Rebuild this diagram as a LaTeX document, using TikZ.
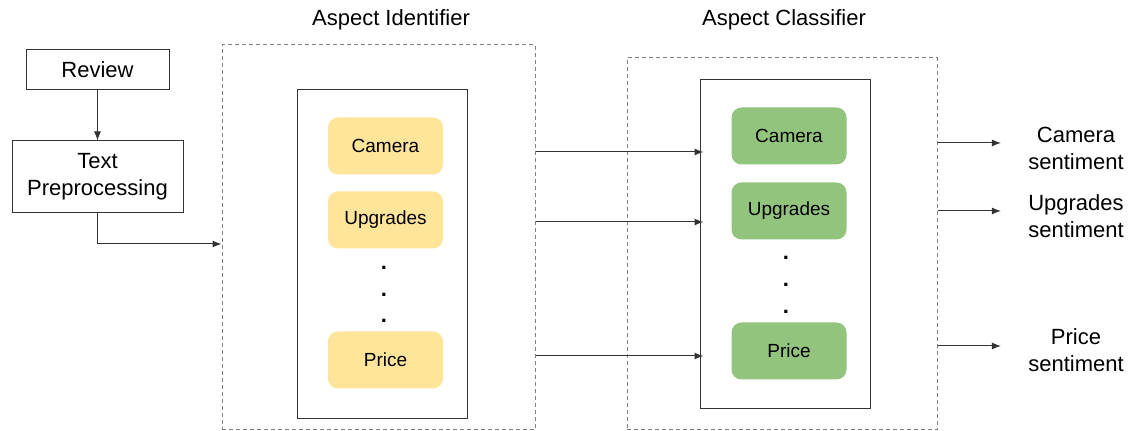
\documentclass[tikz,border=0pt]{standalone}
\usepackage{fontspec}
\setmainfont{Liberation Sans}
\usetikzlibrary{arrows.meta}
\definecolor{boxline}{HTML}{333333}
\definecolor{aspyellow}{HTML}{FFE599}
\definecolor{aspgreen}{HTML}{93C47D}
\def\big{\fontsize{11}{13.5}\selectfont}
\def\small{\fontsize{9.5}{11}\selectfont}
\tikzset{
	plain/.style={draw=boxline,line width=0.5pt,fill=white,align=center,font=\big,inner sep=0pt},
	frame/.style={draw=gray,line width=0.5pt,dash pattern=on 2pt off 1.5pt,inner sep=0pt},
	aspect/.style={rounded corners=5pt,minimum width=57.5pt,minimum height=28.5pt,font=\small,inner sep=0pt},
	label/.style={align=center,font=\big,inner sep=0pt},
	dot/.style={font=\big\bfseries,inner sep=0pt},
	arr/.style={-{Latex[length=4.5pt,width=3.5pt]},draw=boxline,line width=0.5pt},
}
\begin{document}
\begin{tikzpicture}[x=0.5pt,y=-0.5pt]
\useasboundingbox (0,0) rectangle (1130,431);
\node[plain,minimum width=71.5pt,minimum height=20pt] (review) at (97.5,70) {Review};
\node[plain,minimum width=85.5pt,minimum height=36pt] (prep) at (97.5,177) {\raisebox{-2pt}{\begin{tabular}{@{}c@{}}Text\\Preprocessing\end{tabular}}};
\draw[arr] (review) -- (prep);
\node[frame,minimum width=156.5pt,minimum height=192.5pt] (idframe) at (378.5,237.5) {};
\node[plain,minimum width=85pt,minimum height=164.5pt] (idin) at (382,254.5) {};
\node[label] (idtitle) at (391,20) {Aspect Identifier};
\draw[arr] (prep.south) |- (idframe.west |- 0,244);
\foreach \n/\t/\y in {cam/Camera/146,upg/Upgrades/220,pri/Price/360}
	\node[aspect,fill=aspyellow] (id\n) at (385.5,\y) {\t};
\foreach \y in {268,295,321}
	\node[dot] at (384,\y) {.};
\node[frame,minimum width=155pt,minimum height=186pt] (clsframe) at (782,244) {};
\node[plain,minimum width=85pt,minimum height=164.5pt] (clsin) at (785,244.5) {};
\node[label] (clstitle) at (784,20) {Aspect Classifier};
\foreach \n/\t/\y in {cam/Camera/136,upg/Upgrades/211,pri/Price/351}
	\node[aspect,fill=aspgreen] (cls\n) at (789,\y) {\t};
\foreach \y in {258,285,312}
	\node[dot] at (786,\y) {.};
\foreach \y in {152,222,356}
	\draw[arr,shorten >=-2pt] (idframe.east |- 0,\y) -- (clsin.west |- 0,\y);
\foreach \n/\t/\y/\ly in {cam/Camera/143/148,upg/Upgrades/211/216,pri/Price/346/350}{
	\node[label] (out\n) at (1076,\ly) {\t\\sentiment};
	\draw[arr,shorten >=13.5pt] (clsframe.east |- 0,\y) -- (out\n.west |- 0,\y);
}
\end{tikzpicture}
\end{document}
